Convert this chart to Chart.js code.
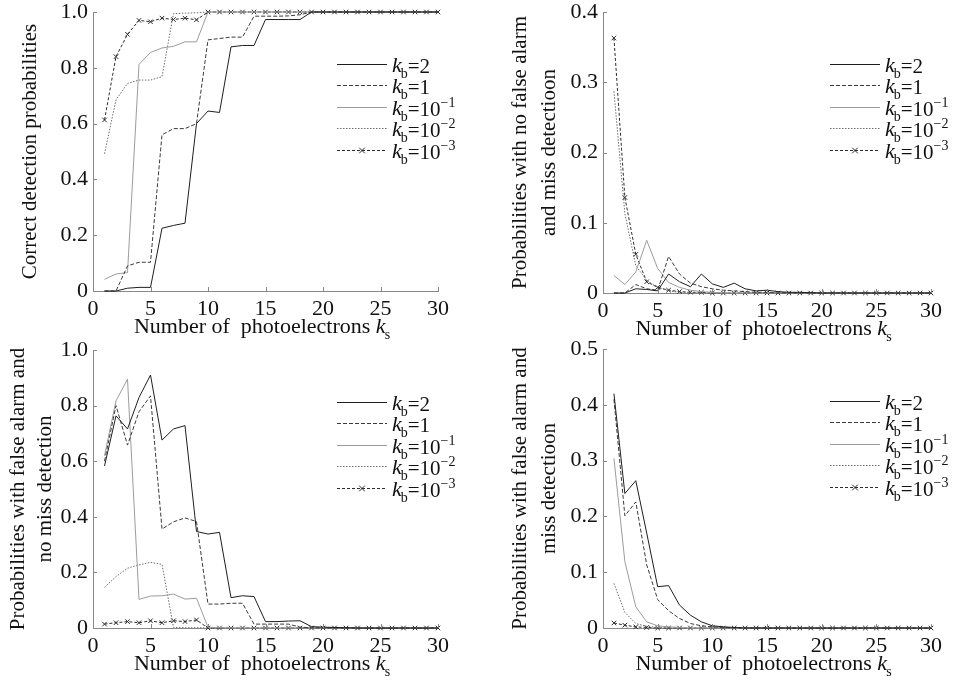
<!DOCTYPE html>
<html>
<head>
<meta charset="utf-8">
<script src="https://cdn.jsdelivr.net/npm/chart.js@4.4.0/dist/chart.umd.min.js"></script>
<style>
  body { margin: 0; background: #fff; width: 973px; height: 682px; overflow: hidden; position: relative; }
  .panel { position: absolute; }
</style>
</head>
<body>
<div class="panel" style="left:0;top:0"><canvas id="chartTL" width="486" height="341"></canvas></div>
<div class="panel" style="left:486px;top:0"><canvas id="chartTR" width="487" height="341"></canvas></div>
<div class="panel" style="left:0;top:341px"><canvas id="chartBL" width="486" height="341"></canvas></div>
<div class="panel" style="left:486px;top:341px"><canvas id="chartBR" width="487" height="341"></canvas></div>
<script>
// number of photoelectrons k_s
const ks = [1, 2, 3, 4, 5, 6, 7, 8, 9, 10, 11, 12, 13, 14, 15, 16, 17, 18, 19, 20, 21, 22, 23, 24, 25, 26, 27, 28, 29, 30];
const xTicks = [0, 5, 10, 15, 20, 25, 30];

// legend entries: k_b = value^exponent
const legendValues = ['2', '1', '10', '10', '10'];
const legendExps = ['', '', '\u22121', '\u22122', '\u22123'];

// correct detection probabilities
const tlKb2 = [0, 0, 0.01, 0.013, 0.013, 0.225, 0.235, 0.243, 0.6, 0.645, 0.64, 0.875, 0.88, 0.88, 0.973, 0.973, 0.973, 0.973, 1, 1, 1, 1, 1, 1, 1, 1, 1, 1, 1, 1];
const tlKb1 = [0, 0, 0.09, 0.103, 0.103, 0.56, 0.582, 0.582, 0.6, 0.9, 0.905, 0.91, 0.91, 0.985, 0.985, 0.985, 0.986, 0.99, 1, 1, 1, 1, 1, 1, 1, 1, 1, 1, 1, 1];
const tlKbm1 = [0.042, 0.061, 0.066, 0.812, 0.855, 0.871, 0.877, 0.893, 0.893, 1, 1, 1, 1, 1, 1, 1, 1, 1, 1, 1, 1, 1, 1, 1, 1, 1, 1, 1, 1, 1];
const tlKbm2 = [0.492, 0.685, 0.744, 0.756, 0.756, 0.768, 0.994, 0.996, 0.997, 1, 1, 1, 1, 1, 1, 1, 1, 1, 1, 1, 1, 1, 1, 1, 1, 1, 1, 1, 1, 1];
const tlKbm3 = [0.613, 0.84, 0.92, 0.97, 0.965, 0.978, 0.973, 0.978, 0.972, 1, 1, 1, 1, 1, 1, 1, 1, 1, 1, 1, 1, 1, 1, 1, 1, 1, 1, 1, 1, 1];
const tlTicks = [0, 0.2, 0.4, 0.6, 0.8, 1.0];

// no false alarm and miss detection
const trKb2 = [0, 0, 0.006, 0.005, 0.003, 0.027, 0.016, 0.009, 0.027, 0.013, 0.008, 0.014, 0.006, 0.003, 0.004, 0.002, 0.001, 0.001, 0.0005, 0, 0, 0, 0, 0, 0, 0, 0, 0, 0, 0];
const trKb1 = [0, 0, 0.012, 0.006, 0.004, 0.052, 0.027, 0.014, 0.009, 0.006, 0.004, 0.003, 0.002, 0.001, 0.001, 0, 0, 0, 0, 0, 0, 0, 0, 0, 0, 0, 0, 0, 0, 0];
const trKbm1 = [0.025, 0.012, 0.03, 0.075, 0.035, 0.015, 0.008, 0.004, 0.002, 0.001, 0, 0, 0, 0, 0, 0, 0, 0, 0, 0, 0, 0, 0, 0, 0, 0, 0, 0, 0, 0];
const trKbm2 = [0.287, 0.113, 0.039, 0.018, 0.008, 0.003, 0.001, 0, 0, 0, 0, 0, 0, 0, 0, 0, 0, 0, 0, 0, 0, 0, 0, 0, 0, 0, 0, 0, 0, 0];
const trKbm3 = [0.363, 0.136, 0.055, 0.016, 0.008, 0.004, 0.002, 0.001, 0.001, 0, 0, 0, 0, 0, 0, 0, 0, 0, 0, 0, 0, 0, 0, 0, 0, 0, 0, 0, 0, 0];
const trTicks = [0, 0.1, 0.2, 0.3, 0.4];

// false alarm and no miss detection
const blKb2 = [0.583, 0.763, 0.716, 0.829, 0.91, 0.676, 0.716, 0.728, 0.347, 0.338, 0.344, 0.109, 0.116, 0.113, 0.023, 0.023, 0.025, 0.026, 0.005, 0.003, 0.002, 0.001, 0, 0, 0, 0, 0, 0, 0, 0];
const blKb1 = [0.6, 0.8, 0.658, 0.778, 0.835, 0.356, 0.382, 0.396, 0.383, 0.086, 0.086, 0.089, 0.089, 0.014, 0.014, 0.014, 0.014, 0.003, 0.001, 0, 0, 0, 0, 0, 0, 0, 0, 0, 0, 0];
const blKbm1 = [0.62, 0.817, 0.895, 0.103, 0.115, 0.116, 0.122, 0.104, 0.107, 0.003, 0.001, 0, 0, 0, 0, 0, 0, 0, 0, 0, 0, 0, 0, 0, 0, 0, 0, 0, 0, 0];
const blKbm2 = [0.146, 0.185, 0.215, 0.227, 0.236, 0.229, 0.002, 0.001, 0.001, 0, 0, 0, 0, 0, 0, 0, 0, 0, 0, 0, 0, 0, 0, 0, 0, 0, 0, 0, 0, 0];
const blKbm3 = [0.014, 0.019, 0.023, 0.019, 0.026, 0.019, 0.026, 0.023, 0.029, 0, 0, 0, 0, 0, 0, 0, 0, 0, 0, 0, 0, 0, 0, 0, 0, 0, 0, 0, 0, 0];
const blTicks = [0, 0.2, 0.4, 0.6, 0.8, 1.0];

// false alarm and miss detection
const brKb2 = [0.42, 0.241, 0.264, 0.17, 0.074, 0.076, 0.041, 0.023, 0.011, 0.004, 0.002, 0.001, 0, 0, 0, 0, 0, 0, 0, 0, 0, 0, 0, 0, 0, 0, 0, 0, 0, 0];
const brKb1 = [0.41, 0.201, 0.226, 0.113, 0.051, 0.031, 0.017, 0.008, 0.004, 0.002, 0.001, 0, 0, 0, 0, 0, 0, 0, 0, 0, 0, 0, 0, 0, 0, 0, 0, 0, 0, 0];
const brKbm1 = [0.304, 0.119, 0.038, 0.011, 0.004, 0.002, 0.001, 0, 0, 0, 0, 0, 0, 0, 0, 0, 0, 0, 0, 0, 0, 0, 0, 0, 0, 0, 0, 0, 0, 0];
const brKbm2 = [0.08, 0.028, 0.008, 0.003, 0.001, 0, 0, 0, 0, 0, 0, 0, 0, 0, 0, 0, 0, 0, 0, 0, 0, 0, 0, 0, 0, 0, 0, 0, 0, 0];
const brKbm3 = [0.009, 0.005, 0.002, 0.001, 0, 0, 0, 0, 0, 0, 0, 0, 0, 0, 0, 0, 0, 0, 0, 0, 0, 0, 0, 0, 0, 0, 0, 0, 0, 0];
const brTicks = [0, 0.1, 0.2, 0.3, 0.4, 0.5];

const FONT = '"Liberation Serif", "Times New Roman", serif';

// line styles for k_b = 2, 1, 1e-1, 1e-2, 1e-3
const seriesStyles = [
  { color: '#1e1e1e', dash: [] },
  { color: '#3a3a3a', dash: [4, 2] },
  { color: '#9c9c9c', dash: [] },
  { color: '#6c6c6c', dash: [1.5, 1.5] },
  { color: '#2c2c2c', dash: [3, 2], cross: true }
];

function drawCross(ctx, x, y, r) {
  ctx.beginPath();
  ctx.moveTo(x - r, y - r); ctx.lineTo(x + r, y + r);
  ctx.moveTo(x - r, y + r); ctx.lineTo(x + r, y - r);
  ctx.stroke();
}

// legend, axis titles and inward tick marks
const decorPlugin = {
  id: 'decor',
  afterDraw(chart, args, opts) {
    const ctx = chart.ctx;
    const area = chart.chartArea;
    ctx.save();

    // inward ticks
    ctx.strokeStyle = '#888';
    ctx.lineWidth = 1;
    ctx.setLineDash([]);
    const xs = chart.scales.x, ys = chart.scales.y;
    ctx.beginPath();
    xs.ticks.forEach(t => {
      const px = Math.round(xs.getPixelForValue(t.value)) + 0.5;
      ctx.moveTo(px, area.bottom); ctx.lineTo(px, area.bottom - 4);
    });
    ys.ticks.forEach(t => {
      const py = Math.round(ys.getPixelForValue(t.value)) + 0.5;
      ctx.moveTo(area.left, py); ctx.lineTo(area.left + 4, py);
    });
    ctx.stroke();

    // legend
    const lx = area.right - 101, ly = area.top + 52, step = 21.4;
    ctx.fillStyle = '#111';
    ctx.textAlign = 'left';
    ctx.textBaseline = 'alphabetic';
    chart.data.datasets.forEach((ds, i) => {
      const y = Math.round(ly + i * step) + 0.5;
      ctx.strokeStyle = ds.borderColor;
      ctx.setLineDash(ds.borderDash);
      ctx.beginPath(); ctx.moveTo(lx, y); ctx.lineTo(lx + 50, y); ctx.stroke();
      ctx.setLineDash([]);
      if (seriesStyles[i].cross) drawCross(ctx, lx + 25, y, 2.8);
      let tx = lx + 55;
      ctx.font = 'italic 22px ' + FONT;
      ctx.fillText('k', tx, y + 7);
      tx += ctx.measureText('k').width - 1;
      ctx.font = '14px ' + FONT;
      ctx.fillText('b', tx, y + 13);
      tx += ctx.measureText('b').width;
      ctx.font = '21px ' + FONT;
      const main = '=' + legendValues[i];
      ctx.fillText(main, tx, y + 8);
      tx += ctx.measureText(main).width;
      if (legendExps[i]) {
        ctx.font = '14px ' + FONT;
        ctx.fillText(legendExps[i], tx, y - 1);
      }
    });

    // x title: Number of photoelectrons k_s
    const xt = 'Number of  photoelectrons ';
    ctx.font = '22px ' + FONT;
    const w1 = ctx.measureText(xt).width;
    ctx.font = 'italic 22px ' + FONT;
    const w2 = ctx.measureText('k').width;
    ctx.font = '14px ' + FONT;
    const w3 = ctx.measureText('s').width;
    let x0 = (area.left + area.right) / 2 - (w1 + w2 + w3) / 2 - 3;
    const by = area.bottom + 42;
    ctx.font = '22px ' + FONT;
    ctx.fillText(xt, x0, by);
    ctx.font = 'italic 22px ' + FONT;
    ctx.fillText('k', x0 + w1, by);
    ctx.font = '14px ' + FONT;
    ctx.fillText('s', x0 + w1 + w2 - 1, by + 6);

    // y title (rotated)
    ctx.font = '21px ' + FONT;
    ctx.textAlign = 'center';
    ctx.textBaseline = 'middle';
    const cy = (area.top + area.bottom) / 2;
    opts.yTitle.forEach((line, i) => {
      ctx.save();
      ctx.translate(area.left + opts.yTitleOffsets[i], cy);
      ctx.rotate(-Math.PI / 2);
      ctx.fillText(line, 0, 0);
      ctx.restore();
    });
    ctx.restore();
  }
};

function makePanel(id, series, yTicks, yTitle, yTitleOffsets, pad, yWidth, xHeight) {
  const ctx = document.getElementById(id).getContext('2d');
  const datasets = series.map((vals, i) => {
    const st = seriesStyles[i];
    return {
      data: ks.map((k, j) => ({ x: k, y: vals[j] })),
      borderColor: st.color,
      borderDash: st.dash,
      borderWidth: 1,
      pointStyle: 'crossRot',
      pointRadius: st.cross ? 3.2 : 0,
      pointBorderColor: st.color,
      pointBorderWidth: 1,
      tension: 0,
      fill: false,
      clip: false
    };
  });

  new Chart(ctx, {
    type: 'line',
    data: { datasets: datasets },
    options: {
      responsive: false,
      animation: false,
      devicePixelRatio: 1,
      layout: { padding: { top: pad.top, right: pad.right, left: 0, bottom: 0 } },
      plugins: {
        legend: { display: false },
        tooltip: { enabled: false },
        decor: { yTitle: yTitle, yTitleOffsets: yTitleOffsets }
      },
      scales: {
        x: {
          type: 'linear',
          min: 0,
          max: 30,
          afterBuildTicks: s => { s.ticks = xTicks.map(v => ({ value: v })); },
          afterFit: s => { s.height = xHeight; s.paddingLeft = 0; s.paddingRight = 0; },
          grid: { display: false, drawTicks: false },
          border: { display: true, color: '#888', width: 1 },
          ticks: { color: '#111', padding: 5, font: { family: FONT, size: 22 }, maxRotation: 0 }
        },
        y: {
          type: 'linear',
          min: 0,
          max: yTicks[yTicks.length - 1],
          afterBuildTicks: s => { s.ticks = yTicks.map(v => ({ value: v })); },
          afterFit: s => { s.width = yWidth; s.paddingTop = 0; s.paddingBottom = 0; },
          grid: { display: false, drawTicks: false },
          border: { display: true, color: '#888', width: 1 },
          ticks: {
            color: '#111',
            padding: 5,
            font: { family: FONT, size: 22 },
            callback: v => (v === 0 ? '0' : v.toFixed(1))
          }
        }
      }
    },
    plugins: [decorPlugin]
  });
}

makePanel('chartTL', [tlKb2, tlKb1, tlKbm1, tlKbm2, tlKbm3], tlTicks,
  ['Correct detection probabilities'], [-63], { top: 12, right: 48 }, 93, 50);
makePanel('chartTR', [trKb2, trKb1, trKbm1, trKbm2, trKbm3], trTicks,
  ['Probabilities with no false alarm', 'and miss detectioon'], [-83, -54], { top: 12, right: 42 }, 117, 48);
makePanel('chartBL', [blKb2, blKb1, blKbm1, blKbm2, blKbm3], blTicks,
  ['Probabilities with false alarm and', 'no miss detection'], [-75, -48], { top: 9, right: 48 }, 93, 54);
makePanel('chartBR', [brKb2, brKb1, brKbm1, brKbm2, brKbm3], brTicks,
  ['Probabilities with false alarm and', 'miss detectioon'], [-83, -54], { top: 8, right: 42 }, 117, 54);
</script>
</body>
</html>
